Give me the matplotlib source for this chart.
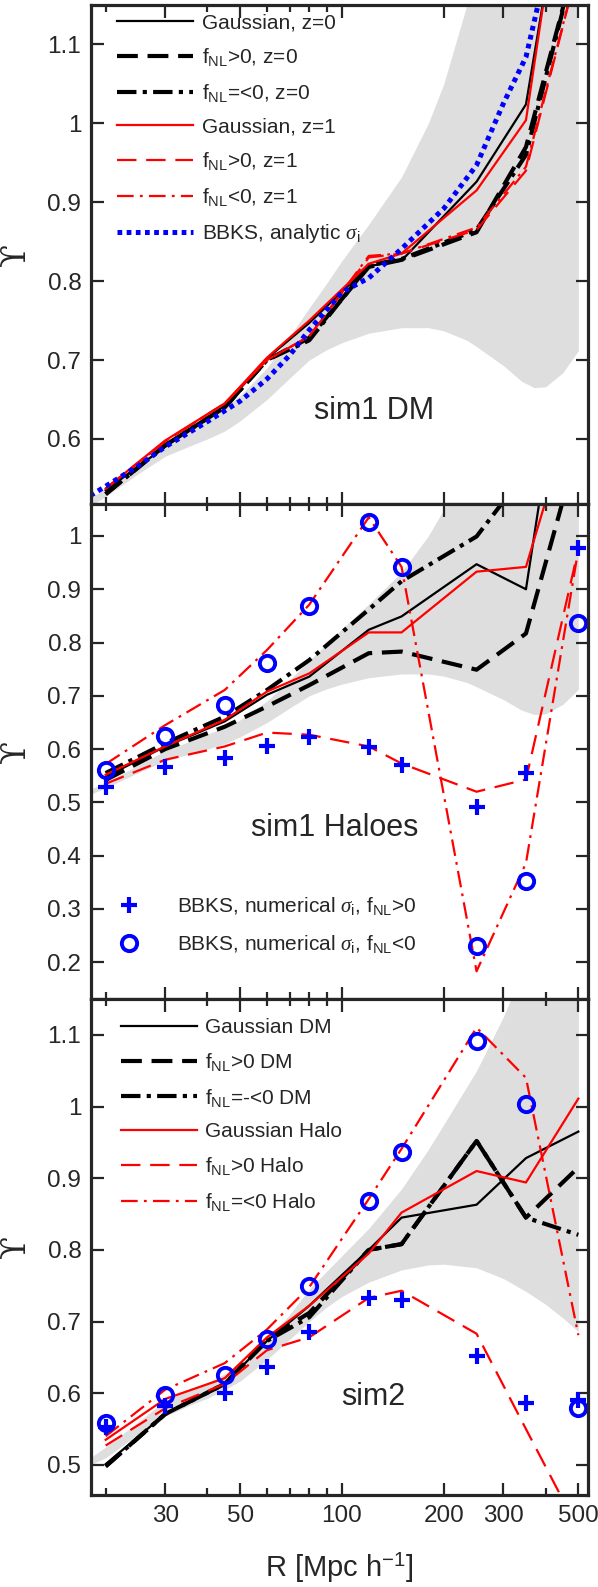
import numpy as np
import matplotlib
matplotlib.use("Agg")
import matplotlib.pyplot as plt
from matplotlib.lines import Line2D

plt.rcParams["font.family"] = ["Liberation Sans", "DejaVu Sans"]
plt.rcParams["mathtext.fontset"] = "custom"
plt.rcParams["mathtext.rm"] = "Liberation Sans"
plt.rcParams["mathtext.it"] = "Liberation Serif:italic"
plt.rcParams["lines.scale_dashes"] = False
plt.rcParams["text.color"] = "#262626"

# radii (Mpc/h) at which Upsilon is measured
R = [20, 30, 45, 60, 80, 120, 150, 250, 350, 500]

# --- sim1 DM ---
dm_gauss_z0 = [0.535, 0.590, 0.642, 0.702, 0.747, 0.819, 0.826, 0.926, 1.024, 1.42]
dm_pos_z0 = [0.530, 0.592, 0.640, 0.700, 0.728, 0.818, 0.827, 0.862, 0.970, 1.22]
dm_neg_z0 = [0.530, 0.592, 0.640, 0.700, 0.725, 0.820, 0.828, 0.865, 0.960, 1.22]
dm_gauss_z1 = [0.537, 0.598, 0.645, 0.703, 0.750, 0.822, 0.835, 0.915, 1.004, 1.45]
dm_pos_z1 = [0.537, 0.597, 0.645, 0.700, 0.730, 0.830, 0.835, 0.865, 0.940, 1.20]
dm_neg_z1 = [0.537, 0.597, 0.645, 0.700, 0.730, 0.832, 0.835, 0.868, 0.945, 1.20]

# BBKS prediction with analytic sigma_i
R_bbks = [18, 20, 25, 30, 40, 50, 60, 70, 80, 100, 120, 150, 200, 250, 300, 350, 380]
bbks_analytic = [0.528, 0.540, 0.566, 0.590, 0.622, 0.648, 0.676, 0.706, 0.738,
                 0.786, 0.804, 0.841, 0.892, 0.947, 1.025, 1.084, 1.15]

# --- sim1 haloes ---
h_gauss = [0.548, 0.605, 0.652, 0.702, 0.736, 0.824, 0.849, 0.947, 0.900, 1.54]
h_pos = [0.542, 0.600, 0.642, 0.680, 0.720, 0.780, 0.783, 0.749, 0.817, 1.17]
h_neg = [0.555, 0.611, 0.661, 0.711, 0.767, 0.862, 0.915, 0.999, 1.12, 1.30]
h_gauss_z1 = [0.552, 0.605, 0.655, 0.708, 0.742, 0.819, 0.819, 0.933, 0.942, 1.27]
h_pos_z1 = [0.535, 0.580, 0.605, 0.631, 0.627, 0.605, 0.573, 0.520, 0.543, 0.975]
h_neg_z1 = [0.572, 0.645, 0.711, 0.786, 0.871, 1.035, 0.942, 0.183, 0.386, 0.975]
h_bbks_pos = [0.528, 0.566, 0.583, 0.605, 0.622, 0.604, 0.570, 0.492, 0.555, 0.977]
h_bbks_neg = [0.561, 0.625, 0.683, 0.761, 0.869, 1.026, 0.941, 0.230, 0.353, 0.836]

# --- sim2 ---
s2_dm_gauss = [0.501, 0.571, 0.613, 0.673, 0.722, 0.800, 0.845, 0.863, 0.928, 0.965]
s2_dm_pos = [0.498, 0.571, 0.613, 0.676, 0.712, 0.800, 0.808, 0.952, 0.845, 0.915]
s2_dm_neg = [0.498, 0.571, 0.613, 0.673, 0.706, 0.800, 0.808, 0.952, 0.845, 0.821]
s2_h_gauss = [0.535, 0.592, 0.621, 0.678, 0.722, 0.795, 0.852, 0.910, 0.894, 1.011]
s2_h_pos = [0.527, 0.579, 0.613, 0.660, 0.678, 0.733, 0.743, 0.683, 0.550, 0.41]
s2_h_neg = [0.540, 0.605, 0.642, 0.689, 0.748, 0.871, 0.941, 1.110, 1.040, 0.681]
s2_bbks_pos = [0.553, 0.582, 0.600, 0.636, 0.686, 0.733, 0.730, 0.652, 0.587, 0.590]
s2_bbks_neg = [0.558, 0.597, 0.626, 0.676, 0.749, 0.868, 0.936, 1.091, 1.004, 0.579]

# Gaussian scatter bands (sim1 and sim2)
R_band1 = [18, 20, 25, 30, 35, 40, 45, 50, 60, 70, 80, 90, 100, 120, 150, 180, 200,
           234, 250, 280, 300, 340, 370, 400, 450, 500]
band1_lo = [0.515, 0.527, 0.556, 0.578, 0.590, 0.600, 0.610, 0.623, 0.650, 0.677,
            0.700, 0.713, 0.722, 0.734, 0.741, 0.741, 0.737, 0.725, 0.717, 0.702,
            0.693, 0.673, 0.665, 0.666, 0.684, 0.712]
band1_hi = [0.525, 0.537, 0.570, 0.597, 0.613, 0.628, 0.641, 0.655, 0.690, 0.730,
            0.766, 0.797, 0.826, 0.872, 0.932, 1.000, 1.050, 1.150, 1.200, 1.290,
            1.350, 1.460, 1.540, 1.620, 1.750, 1.880]
R_band2 = [18, 20, 25, 30, 35, 40, 45, 50, 60, 70, 80, 90, 100, 120, 150, 180, 200,
           250, 300, 350, 400, 450, 500]
band2_lo = [0.500, 0.510, 0.543, 0.568, 0.582, 0.593, 0.605, 0.617, 0.647, 0.675,
            0.700, 0.720, 0.735, 0.755, 0.772, 0.779, 0.780, 0.775, 0.760, 0.742,
            0.724, 0.705, 0.686]
band2_hi = [0.510, 0.525, 0.560, 0.590, 0.603, 0.615, 0.627, 0.640, 0.675, 0.710,
            0.745, 0.770, 0.792, 0.830, 0.885, 0.940, 0.975, 1.050, 1.125, 1.200,
            1.280, 1.340, 1.400]

xticks = [30, 50, 100, 200, 300, 500]
xminor = [20, 40, 60, 70, 80, 90, 400]
fnl = r"f$_{\mathrm{NL}}$"
sig = r"$\sigma_{\mathrm{i}}$"

EDGE = "#262626"
GREY = "#dedede"
BLUE = "#0000ff"

DASH_K = (0, (15, 7))
DASHDOT_K = (0, (14, 4.5, 3, 4.5))
DASH_R = (0, (14, 7))
DASHDOT_R = (0, (12, 4.5, 2, 4.5))

fig = plt.figure(figsize=(5.98, 15.87), dpi=100)
left, width = 91 / 598, 497 / 598
ax1 = fig.add_axes([left, (1587 - 504) / 1587, width, 499 / 1587])
ax2 = fig.add_axes([left, (1587 - 999) / 1587, width, 495 / 1587])
ax3 = fig.add_axes([left, (1587 - 1495) / 1587, width, 496 / 1587])


def style(ax, ylim, yticks, show_x):
    ax.set_xscale("log")
    ax.set_xlim(18.1, 534)
    ax.set_ylim(*ylim)
    ax.set_xticks(xticks)
    ax.set_xticks(xminor, minor=True)
    ax.set_yticks(yticks)
    ax.set_yticklabels(["%g" % v for v in yticks])
    if show_x:
        ax.set_xticklabels([str(v) for v in xticks])
    else:
        ax.set_xticklabels([])
    ax.set_xticklabels([], minor=True)
    ax.tick_params(which="both", direction="in", top=True, right=True,
                   color=EDGE, labelcolor=EDGE, labelsize=17.5, width=1.6, pad=7)
    ax.tick_params(which="major", length=9)
    ax.tick_params(which="minor", length=5)
    for s in ax.spines.values():
        s.set_linewidth(2.3)
        s.set_color(EDGE)
    ax.set_ylabel("\u03d2", family="DejaVu Serif", fontsize=24, color=EDGE)
    ax.yaxis.set_label_coords(-0.118, 0.5)


# panel 1: sim1 DM
ax1.fill_between(R_band1, band1_lo, band1_hi, color=GREY, lw=0)
ax1.plot(R, dm_gauss_z0, color="k", lw=1.6, label="Gaussian, z=0")
ax1.plot(R, dm_pos_z0, color="k", lw=3, ls=DASH_K, label=fnl + ">0, z=0")
ax1.plot(R, dm_neg_z0, color="k", lw=3, ls=DASHDOT_K, label=fnl + "=<0, z=0")
ax1.plot(R, dm_gauss_z1, color="red", lw=1.6, label="Gaussian, z=1")
ax1.plot(R, dm_pos_z1, color="red", lw=1.6, ls=DASH_R, label=fnl + ">0, z=1")
ax1.plot(R, dm_neg_z1, color="red", lw=1.6, ls=DASHDOT_R, label=fnl + "<0, z=1")
ax1.plot(R_bbks, bbks_analytic, color=BLUE, lw=3.6, ls=(0, (3.4, 3.2)),
         label="BBKS, analytic " + sig)
style(ax1, (0.5175, 1.15), [0.6, 0.7, 0.8, 0.9, 1.0, 1.1], False)
ax1.legend(loc="upper left", bbox_to_anchor=(0.036, 1.0), borderaxespad=0,
           frameon=False, fontsize=15, handlelength=3.65, handletextpad=0.42,
           labelspacing=0.66)
ax1.text(0.57, 0.186, "sim1 DM", transform=ax1.transAxes, fontsize=22,
         ha="center", va="center")

# panel 2: sim1 haloes
ax2.fill_between(R_band1, band1_lo, band1_hi, color=GREY, lw=0)
ax2.plot(R, h_gauss, color="k", lw=1.6)
ax2.plot(R, h_pos, color="k", lw=3, ls=DASH_K)
ax2.plot(R, h_neg, color="k", lw=3, ls=DASHDOT_K)
ax2.plot(R, h_gauss_z1, color="red", lw=1.6)
ax2.plot(R, h_pos_z1, color="red", lw=1.6, ls=DASH_R)
ax2.plot(R, h_neg_z1, color="red", lw=1.6, ls=DASHDOT_R)
ax2.plot(R, h_bbks_pos, ls="none", marker="+", ms=12, mew=3, color=BLUE)
ax2.plot(R, h_bbks_neg, ls="none", marker="o", ms=11, mew=2.8, mfc="none", mec=BLUE)
style(ax2, (0.131, 1.06), [0.2, 0.3, 0.4, 0.5, 0.6, 0.7, 0.8, 0.9, 1.0], False)
h_marks = [
    Line2D([], [], ls="none", marker="+", ms=12, mew=3, color=BLUE),
    Line2D([], [], ls="none", marker="o", ms=11, mew=2.8, mfc="none", mec=BLUE),
]
ax2.legend(h_marks, ["BBKS, numerical " + sig + ", " + fnl + ">0",
                     "BBKS, numerical " + sig + ", " + fnl + "<0"],
           loc="lower left", bbox_to_anchor=(0.0175, 0.072), borderaxespad=0,
           frameon=False, fontsize=15, handlelength=2, handletextpad=1.3,
           labelspacing=0.75)
ax2.text(0.49, 0.345, "sim1 Haloes", transform=ax2.transAxes, fontsize=22,
         ha="center", va="center")

# panel 3: sim2
ax3.fill_between(R_band2, band2_lo, band2_hi, color=GREY, lw=0)
ax3.plot(R, s2_dm_gauss, color="k", lw=1.6, label="Gaussian DM")
ax3.plot(R, s2_dm_pos, color="k", lw=3, ls=DASH_K, label=fnl + ">0 DM")
ax3.plot(R, s2_dm_neg, color="k", lw=3, ls=DASHDOT_K, label=fnl + "=-<0 DM")
ax3.plot(R, s2_h_gauss, color="red", lw=1.6, label="Gaussian Halo")
ax3.plot(R, s2_h_pos, color="red", lw=1.6, ls=DASH_R, label=fnl + ">0 Halo")
ax3.plot(R, s2_h_neg, color="red", lw=1.6, ls=DASHDOT_R, label=fnl + "=<0 Halo")
ax3.plot(R, s2_bbks_pos, ls="none", marker="+", ms=12, mew=3, color=BLUE)
ax3.plot(R, s2_bbks_neg, ls="none", marker="o", ms=11, mew=2.8, mfc="none", mec=BLUE)
style(ax3, (0.458, 1.15), [0.5, 0.6, 0.7, 0.8, 0.9, 1.0, 1.1], True)
ax3.legend(loc="upper left", bbox_to_anchor=(0.043, 0.978), borderaxespad=0,
           frameon=False, fontsize=15, handlelength=3.65, handletextpad=0.42,
           labelspacing=0.66)
ax3.text(0.567, 0.198, "sim2", transform=ax3.transAxes, fontsize=22,
         ha="center", va="center")
ax3.set_xlabel(r"R [Mpc h$^{-1}$]", fontsize=21, color=EDGE)
ax3.xaxis.set_label_coords(0.5, -0.113)

fig.savefig("out.png", dpi=100)
